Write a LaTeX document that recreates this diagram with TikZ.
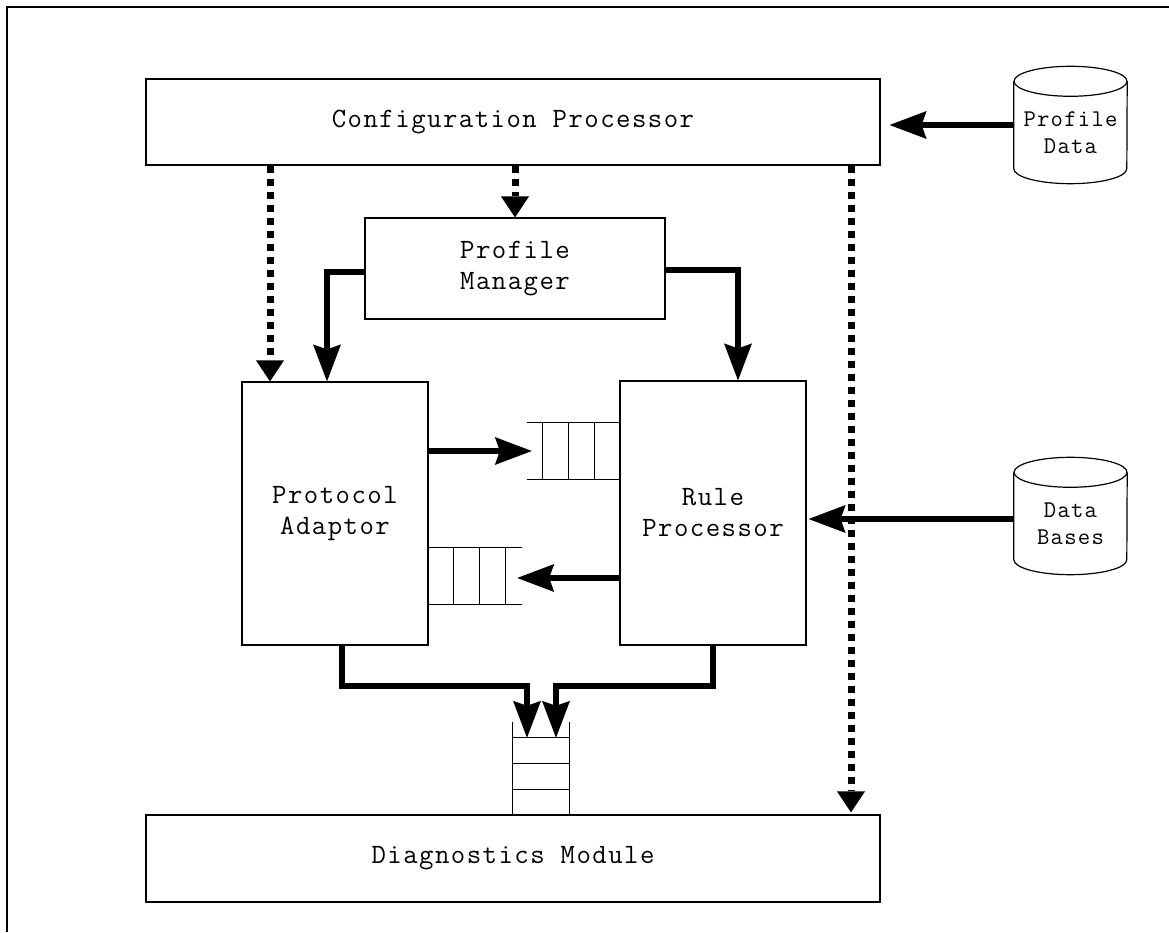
\documentclass[tikz,border=0pt]{standalone}
\usepackage{fontspec}
\usetikzlibrary{arrows.meta}
\newfontfamily\blkfont{Latin Modern Mono}[LetterSpace=5.2]

\begin{document}
\begin{tikzpicture}[x=1pt,y=1pt,
 blk/.style={draw,line width=1.2,inner sep=0,align=center,
  font={\blkfont\fontsize{28}{31}\selectfont}},
 store/.style={inner sep=0,minimum width=113,minimum height=87,align=center,
  font={\blkfont\fontsize{24}{27}\selectfont}},
 cyl/.style={line width=1.2},
 queue/.style={inner sep=0},
 qline/.style={line width=1.2},
 flow/.style={line width=6,
  -{Stealth[length=37pt,width=28pt,inset=5pt,line width=0pt]}},
 ctrl/.style={line width=7,dash pattern=on 7pt off 6pt,
  -{Triangle[length=21pt,width=28pt,line width=0pt]}}]
 \useasboundingbox (0,0) rectangle (1169,932);
 \draw[line width=1.5] (7,0) -- (7,925) -- (1169,925);
 % boxes
 \node[blk,minimum width=734,minimum height=86] (cfg) at (513,810) {Configuration Processor};
 \node[blk,minimum width=300,minimum height=101] (pmgr) at (515,663.5) {Profile\\Manager};
 \node[blk,minimum width=186,minimum height=263] (proto) at (335,418.5) {Protocol\\Adaptor};
 \node[blk,minimum width=186,minimum height=264] (rule) at (713,419) {Rule\\Processor};
 \node[blk,minimum width=734,minimum height=87] (diag) at (513,73.5) {Diagnostics Module};
 \node[store] (pdata) at (1070.5,799) {Profile\\Data};
 \node[store] (dbases) at (1070.5,408) {Data\\Bases};
 % cylinder outlines, body sits 8pt above the text
 \foreach \n in {pdata,dbases}{
  \draw[cyl] ([yshift=8]\n.north) ellipse[x radius=56.5,y radius=15];
  \draw[cyl] ([yshift=8]\n.north west) -- ([yshift=8]\n.south west)
   arc[start angle=180,end angle=360,x radius=56.5,y radius=15]
   -- ([yshift=8]\n.north east);
 }
 % queues
 \node[queue,minimum width=93,minimum height=56] (q1) at (573.5,481) {};
 \node[queue,minimum width=94,minimum height=56] (q2) at (475,356) {};
 \node[queue,minimum width=56,minimum height=93] (q3) at (541,163.5) {};
 \draw[qline] (q1.north west) -- (q1.north east) (q1.south west) -- (q1.south east)
  (q2.north west) -- (q2.north east) (q2.south west) -- (q2.south east)
  (q3.north west) -- (q3.south west) (q3.north east) -- (q3.south east);
 \foreach \d in {1,2,3}{
  \draw[qline] ([xshift=-26*\d]q1.north east) -- ([xshift=-26*\d]q1.south east);
  \draw[qline] ([xshift=26*\d]q2.north west) -- ([xshift=26*\d]q2.south west);
  \draw[qline] ([yshift=26*\d]q3.south west) -- ([yshift=26*\d]q3.south east);
 }
 % control lines
 \coordinate (lft) at ([xshift=-65]proto.north);
 \coordinate (rgt) at ([xshift=338]diag.north);
 \draw[ctrl] (cfg.south -| pmgr.north) -- (pmgr.north);
 \draw[ctrl] (cfg.south -| lft) -- (lft);
 \draw[ctrl,shorten >=2] (cfg.south -| rgt) -- (rgt);
 % data flow
 \draw[flow,shorten >=9] ([yshift=8]pdata.west) -- ([yshift=8]pdata.west -| cfg.east);
 \draw[flow,shorten >=2] ([yshift=5]dbases.west) -- ([yshift=5]dbases.west -| rule.east);
 \draw[flow] ([yshift=-3.5]pmgr.west) -| ([xshift=-8]proto.north);
 \draw[flow] ([yshift=-1.5]pmgr.east) -| ([xshift=25]rule.north);
 \draw[flow] (proto.east |- q1) -- ([xshift=5]q1.west);
 \draw[flow] ([yshift=-2]rule.west |- q2) -- ([xshift=-5,yshift=-2]q2.east);
 \draw[flow] ([xshift=7]proto.south) -- ++(0,-40) -| ([xshift=-14,yshift=-16]q3.north);
 \draw[flow] (rule.south) -- ++(0,-40) -| ([xshift=15,yshift=-16]q3.north);
\end{tikzpicture}
\end{document}
